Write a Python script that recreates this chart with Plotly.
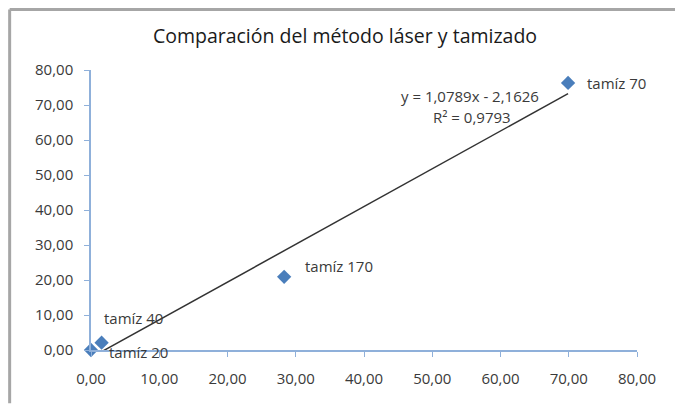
import plotly.graph_objects as go
import numpy as np

# Data
laser_x = [0.0, 1.55, 28.3, 69.9]
tamiz_y = [0.0, 2.1, 20.9, 76.3]
point_labels = ["tamíz 20", "tamíz 40", "tamíz 170", "tamíz 70"]
trend_slope = 1.0789
trend_intercept = -2.1626
r_squared = 0.9793
x_ticks = [0, 10, 20, 30, 40, 50, 60, 70, 80]
y_ticks = [0, 10, 20, 30, 40, 50, 60, 70, 80]

font_family = "Open Sans, sans-serif"
text_color = "#3a3a3a"
axis_color = "#8fb0da"

fig = go.Figure()

# trendline (Excel-style, from min x to max x, clipped by the axes)
tx = np.array([min(laser_x), max(laser_x)])
ty = trend_slope * tx + trend_intercept
fig.add_trace(go.Scatter(x=tx, y=ty, mode="lines",
                         line=dict(color="#333333", width=1.5),
                         hoverinfo="skip", showlegend=False))

fig.add_trace(go.Scatter(x=laser_x, y=tamiz_y, mode="markers",
                         marker=dict(symbol="diamond", size=11, color="#4a7ebb"),
                         showlegend=False, cliponaxis=False))

# point labels (offsets in pixels)
label_offsets = [(16, -2), (0, 25), (19, 11), (17, 0)]
for x, y, lab, (dx, dy) in zip(laser_x, tamiz_y, point_labels, label_offsets):
    fig.add_annotation(x=x, y=y, text=lab, showarrow=False, xanchor="left",
                       yanchor="middle", xshift=dx, yshift=dy,
                       font=dict(family=font_family, size=15, color=text_color))

def fmt(v, d):
    return f"{abs(v):.{d}f}".replace(".", ",")

eq_text = f"y = {fmt(trend_slope, 4)}x - {fmt(trend_intercept, 4)}"
r2_text = f"R² = {fmt(r_squared, 4)}"
fig.add_annotation(x=55.6, y=72.6, text=eq_text, showarrow=False,
                   font=dict(family=font_family, size=15, color=text_color))
fig.add_annotation(x=55.8, y=66.6, text=r2_text, showarrow=False,
                   font=dict(family=font_family, size=15, color=text_color))

# white strip along the right edge (no right frame edge in the reference)
fig.add_shape(type="rect", xref="paper", yref="paper",
              x0=1.045, y0=-0.19, x1=1.08, y1=1.25,
              line=dict(width=0), fillcolor="white", layer="above")
# frame (only left and top edges visible)
fig.add_shape(type="line", xref="paper", yref="paper",
              x0=-0.149, y0=-0.19, x1=-0.149, y1=1.216,
              line=dict(color="#a6a6a6", width=3), layer="above")
fig.add_shape(type="line", xref="paper", yref="paper",
              x0=-0.149, y0=1.216, x1=1.07, y1=1.216,
              line=dict(color="#a6a6a6", width=3), layer="above")

fig.update_layout(
    width=675, height=406,
    margin=dict(l=91, r=38, t=70, b=56),
    paper_bgcolor="white", plot_bgcolor="white",
    separators=",.",
    title=dict(text="Comparación del método láser y tamizado",
               x=345/675, xanchor="center", y=1 - 36/406, yanchor="middle",
               font=dict(family=font_family, size=19.5, color="#1a1a1a")),
    xaxis=dict(range=[0, 80], tickvals=x_ticks, tickformat=".2f",
               showgrid=False, zeroline=False, showline=True,
               linecolor=axis_color, linewidth=1.5,
               ticks="outside", ticklen=5, tickcolor=axis_color,
               ticklabelstandoff=9,
               tickfont=dict(family=font_family, size=15, color=text_color)),
    yaxis=dict(range=[0, 80], tickvals=y_ticks, tickformat=".2f",
               showgrid=False, zeroline=False, showline=True,
               linecolor=axis_color, linewidth=1.5,
               ticks="outside", ticklen=5, tickcolor=axis_color,
               ticklabelstandoff=8,
               tickfont=dict(family=font_family, size=15, color=text_color)),
)

fig.write_html("out.html", config={"displayModeBar": False},
               post_script="document.body.style.margin='0';"
                           "document.body.style.overflow='hidden';"
                           "document.documentElement.style.overflow='hidden';")
